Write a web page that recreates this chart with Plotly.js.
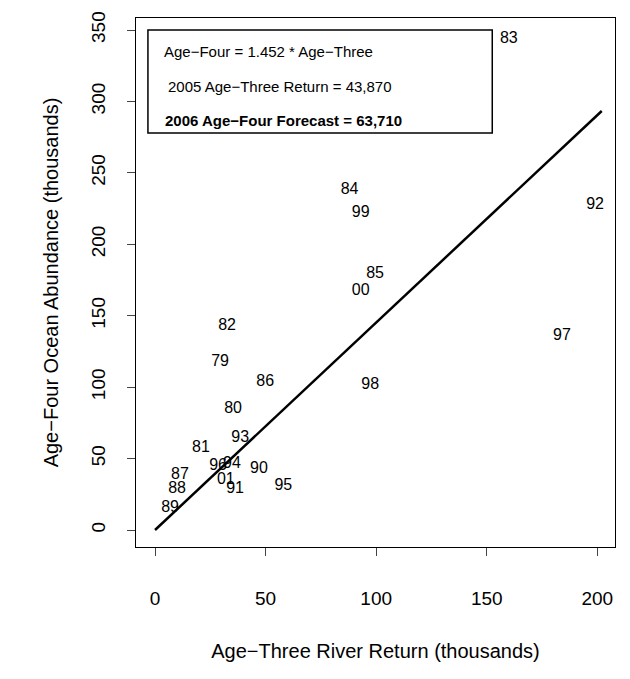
<!DOCTYPE html>
<html>
<head>
<meta charset="utf-8">
<script src="https://cdn.plot.ly/plotly-3.0.1.min.js"></script>
<style>body{margin:0;background:#fff}</style>
</head>
<body>
<div id="chart" style="width:630px;height:679px"></div>
<script>
// brood years and their values (thousands)
var years = ['83','92','84','99','85','00','82','97','79','86','98','80','93','81','96','94','90','87','01','91','95','88','89'];
var ageThree = [160, 199, 88, 93, 99.5, 93, 32.6, 184, 29.4, 49.8, 97.3, 35.3, 38.5, 20.8, 28.5, 34.8, 47, 11.3, 32, 36.2, 58, 10, 6.8];
var ageFour = [344, 227.5, 238, 222, 179, 167, 143, 136, 117.6, 103.6, 101.5, 84.7, 64.4, 57.4, 44.8, 46.2, 42.7, 38.5, 35, 28.7, 30.8, 28.7, 15.4];
var slope = 1.452;
var fitX = [0, 202];
var fitY = fitX.map(function (v) { return v * slope; });
var boxLines = ['Age\u2212Four = 1.452 * Age\u2212Three', '2005 Age\u2212Three Return = 43,870', '<b>2006 Age\u2212Four Forecast = 63,710</b>'];

var fam = 'Liberation Sans, Arial, sans-serif';
var font = {family: fam, size: 16, color: '#000'};

var data = [{
  x: ageThree, y: ageFour, text: years,
  mode: 'text', type: 'scatter',
  textfont: font, hoverinfo: 'none'
}, {
  x: fitX, y: fitY, mode: 'lines', type: 'scatter',
  line: {color: '#000', width: 2.5}, hoverinfo: 'none'
}];

var layout = {
  width: 630, height: 679,
  margin: {l: 136, r: 15, t: 18, b: 132},
  showlegend: false,
  paper_bgcolor: '#fff', plot_bgcolor: '#fff',
  font: font,
  xaxis: {
    range: [-8.6, 208], tickvals: [0, 50, 100, 150, 200],
    showgrid: false, zeroline: false, showline: true, mirror: true,
    linecolor: '#000', linewidth: 1, ticks: 'outside', ticklen: 8,
    ticklabelstandoff: 26,
    tickfont: {family: fam, size: 19},
    title: {text: 'Age\u2212Three River Return (thousands)', font: {family: fam, size: 20}, standoff: 36}
  },
  yaxis: {
    range: [-11.9, 358.4], tickvals: [0, 50, 100, 150, 200, 250, 300, 350],
    tickangle: -90,
    showgrid: false, zeroline: false, showline: true, mirror: true,
    linecolor: '#000', linewidth: 1, ticks: 'outside', ticklen: 8,
    ticklabelstandoff: 14,
    tickfont: {family: fam, size: 19},
    title: {text: 'Age\u2212Four Ocean Abundance (thousands)', font: {family: fam, size: 20}, standoff: 24}
  },
  shapes: [{
    type: 'rect', xref: 'x', yref: 'y',
    x0: -3.2, x1: 152.5, y0: 277.9, y1: 350,
    line: {color: '#000', width: 1.5}, fillcolor: '#fff', layer: 'below'
  }],
  annotations: [
    {x: 3.2, y: 335.3, text: boxLines[0]},
    {x: 5, y: 310.8, text: boxLines[1]},
    {x: 3.6, y: 287, text: boxLines[2]}
  ].map(function (a) {
    return {x: a.x, y: a.y, text: a.text, xref: 'x', yref: 'y', xanchor: 'left', yanchor: 'middle',
      showarrow: false, font: {family: fam, size: 15, color: '#000'}};
  })
};

Plotly.newPlot('chart', data, layout, {displayModeBar: false, staticPlot: true});
</script>
</body>
</html>
